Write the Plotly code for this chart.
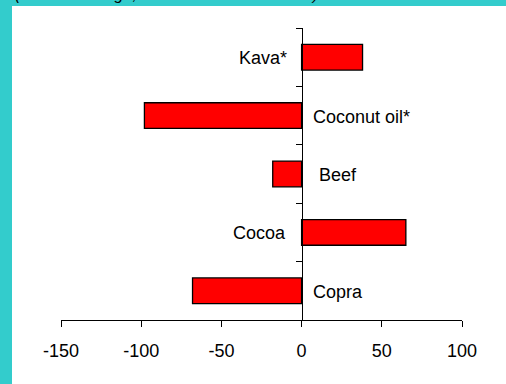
import plotly.graph_objects as go

# Commodity price changes, bottom to top
categories = ["Copra", "Cocoa", "Beef", "Coconut oil*", "Kava*"]
changes = [-68, 65, -18, -98, 38]
x_ticks = [-150, -100, -50, 0, 50, 100]
x_tick_labels = ["-150", "-100", "-50", "0", "50", "100"]
subtitle = "(Percent change, December 2000 to 2001)"

# label offsets from the zero line (px), placed opposite each bar
label_shift = {"Copra": 9, "Cocoa": -14, "Beef": 15, "Coconut oil*": 9, "Kava*": -13}

W, H = 506, 384
ML, MR, MT, MB = 61, 44, 28, 64
FONT = "Arial, Liberation Sans, sans-serif"

fig = go.Figure(
    go.Bar(
        x=changes,
        y=categories,
        orientation="h",
        width=0.44,
        marker=dict(color="#FF0000", line=dict(color="#000000", width=1.3)),
    )
)

for cat, val in zip(categories, changes):
    fig.add_annotation(
        x=0, y=cat, xref="x", yref="y",
        text=cat, showarrow=False,
        xanchor="left" if val < 0 else "right",
        xshift=label_shift[cat], yshift=-1,
        font=dict(family=FONT, size=18, color="#000000"),
    )

# white panel inside the teal frame (left strip 12px, top strip 6px)
pw, ph = W - ML - MR, H - MT - MB
fig.add_shape(
    type="rect", xref="paper", yref="paper", layer="below",
    x0=(12 - ML) / pw, x1=(W - ML) / pw,
    y0=-MB / ph, y1=(H - MB - 6) / ph,
    fillcolor="#FFFFFF", line=dict(width=0),
)

# subtitle sits in the top frame strip, running off the top edge
fig.add_annotation(
    x=(13 - ML) / pw, y=(H - MB - 4.5) / ph,
    xref="paper", yref="paper", xanchor="left", yanchor="bottom",
    text="<i>" + subtitle + "</i>", showarrow=False,
    font=dict(family=FONT, size=16, color="#000000"),
)

fig.update_layout(
    width=W, height=H,
    margin=dict(l=ML, r=MR, t=MT, b=MB),
    paper_bgcolor="#33CCCC",
    plot_bgcolor="#FFFFFF",
    showlegend=False,
    font=dict(family=FONT, size=18, color="#000000"),
    xaxis=dict(
        range=[x_ticks[0], x_ticks[-1]],
        tickvals=x_ticks,
        ticktext=x_tick_labels,
        ticks="outside", ticklen=6, tickcolor="#000000",
        showline=True, linecolor="#000000", linewidth=1,
        showgrid=False,
        zeroline=False,
        ticklabelstandoff=8,
        tickfont=dict(family=FONT, size=18, color="#000000"),
    ),
    yaxis=dict(
        categoryorder="array", categoryarray=categories,
        range=[-0.5, len(categories) - 0.5],
        anchor="free",
        position=(0 - x_ticks[0]) / (x_ticks[-1] - x_ticks[0]),
        showline=True, linecolor="#000000", linewidth=1,
        ticks="outside", ticklen=6, tickcolor="#000000",
        tickson="boundaries",
        showticklabels=False, showgrid=False, zeroline=False,
    ),
)

fig.write_html("out.html")
